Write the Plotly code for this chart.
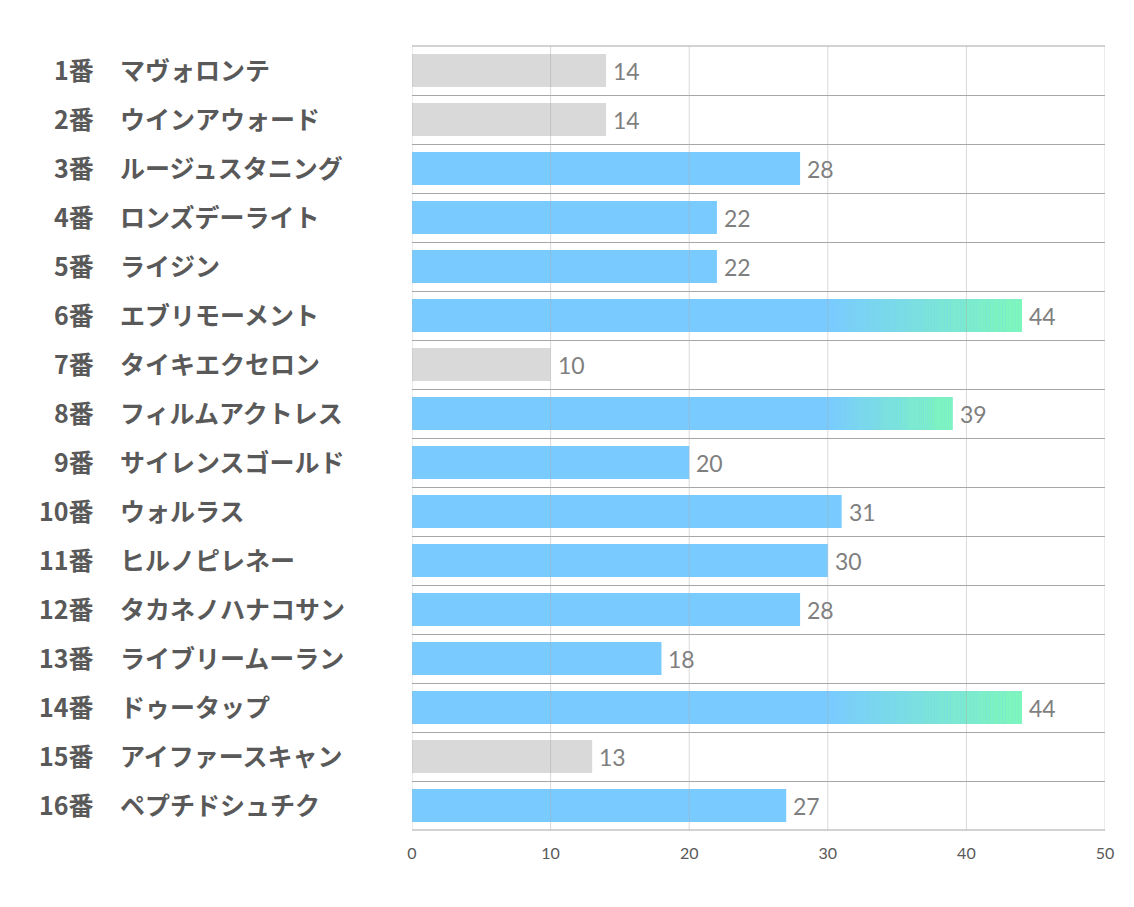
import plotly.graph_objects as go

numbers = ["1番", "2番", "3番", "4番", "5番", "6番", "7番", "8番",
           "9番", "10番", "11番", "12番", "13番", "14番", "15番", "16番"]
names = ["マヴォロンテ", "ウインアウォード", "ルージュスタニング", "ロンズデーライト",
         "ライジン", "エブリモーメント", "タイキエクセロン", "フィルムアクトレス",
         "サイレンスゴールド", "ウォルラス", "ヒルノピレネー", "タカネノハナコサン",
         "ライブリームーラン", "ドゥータップ", "アイファースキャン", "ペプチドシュチク"]
values = [14, 14, 28, 22, 22, 44, 10, 39, 20, 31, 30, 28, 18, 44, 13, 27]
x_ticks = [0, 10, 20, 30, 40, 50]

GRAY = "#d9d9d9"
BLUE = "#79cbff"
GREEN = (125, 248, 185)
BLUE_RGB = (121, 203, 255)
LOW_T = 15      # below -> gray
GRAD_T = 35     # at/above -> gradient tail
GRAD_START = 30
N_SEG = 60

colors = [GRAY if v < LOW_T else BLUE for v in values]

fig = go.Figure()
fig.add_trace(go.Bar(
    y=numbers, x=values, orientation="h", marker_color=colors,
    marker_line_width=0, width=0.67, hoverinfo="x+y",
))

# gradient tails for highest bars
for cat, v in zip(numbers, values):
    if v >= GRAD_T:
        step = (v - GRAD_START) / N_SEG
        bases, widths, cols = [], [], []
        for k in range(N_SEG):
            t = (k + 0.5) / N_SEG
            c = tuple(round(BLUE_RGB[i] + (GREEN[i] - BLUE_RGB[i]) * t) for i in range(3))
            bases.append(GRAD_START + k * step)
            widths.append(step * 1.02)
            cols.append("rgb(%d,%d,%d)" % c)
        fig.add_trace(go.Bar(
            y=[cat] * N_SEG, x=widths, base=bases, orientation="h",
            marker_color=cols, marker_line_width=0, width=0.67,
            hoverinfo="skip", showlegend=False,
        ))

LABEL_FONT = dict(family="Noto Sans CJK JP", size=25, color="#595959", weight="bold")
annotations = []
for cat, nm, v in zip(numbers, names, values):
    annotations.append(dict(
        x=v, y=cat, xref="x", yref="y", text=str(v), showarrow=False,
        xanchor="left", xshift=5, font=dict(family="Lato, Open Sans, sans-serif", size=23, color="#7f7f7f"),
    ))
    annotations.append(dict(
        x=-0.4560, y=cat, xref="paper", yref="y", text=cat, showarrow=False,
        xanchor="right", yshift=2, font=LABEL_FONT,
    ))
    annotations.append(dict(
        x=-0.4242, y=cat, xref="paper", yref="y", text=nm, showarrow=False,
        xanchor="left", yshift=2, font=LABEL_FONT,
    ))

shapes = []
for t in x_ticks:
    shapes.append(dict(type="line", xref="x", yref="paper", x0=t, x1=t, y0=0, y1=1,
                       layer="above", line=dict(color="rgba(170,170,170,0.45)", width=1)))
for yy in (0, 1):
    shapes.append(dict(type="line", xref="paper", yref="paper", x0=0, x1=1, y0=yy, y1=yy,
                       layer="above", line=dict(color="#a6a6a6", width=1)))

fig.update_layout(
    width=1134, height=907,
    margin=dict(l=404, r=37, t=38, b=85),
    paper_bgcolor="white", plot_bgcolor="white",
    barmode="overlay", showlegend=False,
    annotations=annotations, shapes=shapes,
    xaxis=dict(range=[0, 50], tickvals=x_ticks, showgrid=False, zeroline=False,
               showline=False, ticks="", ticklabelstandoff=12,
               tickfont=dict(family="Lato, Open Sans, sans-serif", size=16, color="#595959"),
               fixedrange=True),
    yaxis=dict(categoryorder="array", categoryarray=numbers, autorange="reversed",
               showticklabels=False, tickson="boundaries", showgrid=True,
               gridcolor="#a6a6a6", gridwidth=1, zeroline=False, showline=False,
               ticks="", fixedrange=True),
)

fig.write_html("out.html")
